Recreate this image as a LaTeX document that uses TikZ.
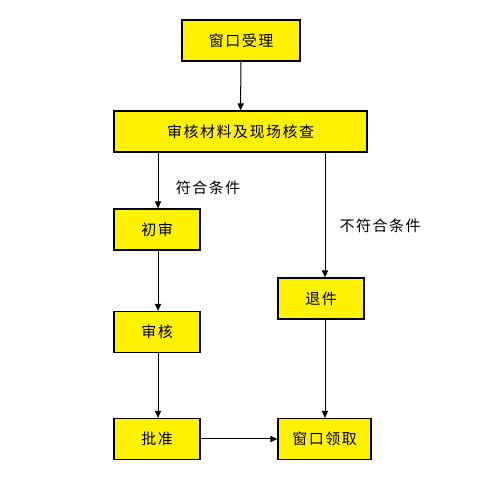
\documentclass[tikz,border=0pt]{standalone}
\usepackage{fontspec}
\newfontfamily\cjk[LetterSpace=10]{Noto Sans CJK SC}
\usetikzlibrary{arrows.meta,calc}

\begin{document}
\begin{tikzpicture}[x=1pt,y=-1pt]
				\tikzstyle{box}=[rectangle,draw,line width=1.1pt,fill=yellow,minimum height=41pt,inner sep=0pt,font=\cjk\fontsize{15}{16}\selectfont]
				\tikzstyle{lbl}=[inner sep=0pt,font=\cjk\fontsize{15}{16}\selectfont]
				\tikzstyle{every path}=[line width=1pt]
				\tikzstyle{arr}=[-{Triangle[width=6pt,length=7pt]}]
				\useasboundingbox (0,0) rectangle (488,481);
				% boxes
				\node[box,minimum width=118pt] (shouli) at (241,40.5) {窗口受理};
				\node[box,minimum width=253pt] (hecha) at (240.5,131.5) {审核材料及现场核查};
				\node[box,minimum width=86pt] (chushen) at (157,229.5) {初审};
				\node[box,minimum width=86pt] (shenhe) at (157,332) {审核};
				\node[box,minimum width=86pt] (pizhun) at (157,439) {批准};
				\node[box,minimum width=86pt] (tuijian) at (321,298.5) {退件};
				\node[box,minimum width=93pt] (lingqu) at (324.5,439) {窗口领取};
				% columns
				\coordinate (lcol) at (158,0);
				\coordinate (rcol) at (325,0);
				% labels
				\node[lbl] (fuhe) at (208,188) {符合条件};
				\node[lbl] (bufuhe) at (380,226) {不符合条件};
				% arrows
				\draw[arr] (shouli) -- (hecha);
				\draw[arr] (hecha.south -| lcol) -- (chushen.north -| lcol);
				\draw[arr] (chushen.south -| lcol) -- (shenhe.north -| lcol);
				\draw[arr] (shenhe.south -| lcol) -- (pizhun.north -| lcol);
				\draw[arr] (hecha.south -| rcol) -- (tuijian.north -| rcol);
				\draw[arr] (tuijian.south -| rcol) -- (lingqu.north -| rcol);
				\draw[arr] (pizhun) -- (lingqu);
			\end{tikzpicture}
\end{document}
